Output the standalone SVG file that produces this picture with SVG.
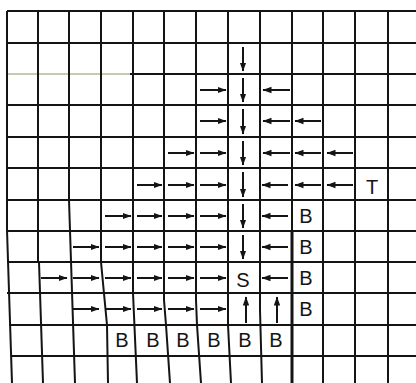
<svg xmlns="http://www.w3.org/2000/svg" width="416" height="383" viewBox="0 0 416 383">
<style>
.g{stroke:#141414;stroke-width:2;fill:none}
.a{stroke:#141414;stroke-width:2;fill:none;marker-end:url(#ah)}
.t{font-family:"Liberation Sans",Arial,sans-serif;font-size:20px;fill:#141414;text-anchor:middle}
</style>
<defs>
<marker id="ah" markerUnits="userSpaceOnUse" markerWidth="10" markerHeight="8" refX="8.5" refY="4" orient="auto">
<path d="M0,0.8 L9,4 L0,7.2 z" fill="#141414"/>
</marker>
</defs>
<rect width="416" height="383" fill="#fff"/>
<g id="grid">
<path class="g" d="M7,11H416 M7,43H416 M130,74H416 M7,105H416 M7,137H416 M7,168H416 M7,200H416 M7,231H416 M7,262H416 M7,293H416 M9,325H416 M11,356H416"/>
<path d="M7,74H130" stroke="#c9c8b0" stroke-width="2"/>
<path class="g" d="M7,11V230L12,383 M38,11V262 M39,262L43,383 M69,11V200L75,383 M101,11V262L107,325L108,383 M133,11V293L137,383 M164,11V300L166,325L170,383 M196,11V300L197,325L201,383 M228,11V325L231,383 M260,11V310L262,383 M292,11V231 M323,11V383 M355,11V383 M388,11V383"/>
<path d="M292,231V383" stroke="#141414" stroke-width="3"/>
</g>
<g id="connectors">
<path class="a" d="M200,90H226"/>
<path class="a" d="M200,121H226"/>
<path class="a" d="M168,153H194"/><path class="a" d="M200,153H226"/>
<path class="a" d="M137,185H162"/><path class="a" d="M168,185H194"/><path class="a" d="M200,185H226"/>
<path class="a" d="M105,216H131"/><path class="a" d="M137,216H162"/><path class="a" d="M168,216H194"/><path class="a" d="M200,216H226"/>
<path class="a" d="M73,247H99"/><path class="a" d="M105,247H131"/><path class="a" d="M137,247H162"/><path class="a" d="M168,247H194"/><path class="a" d="M200,247H226"/>
<path class="a" d="M41,278H67"/><path class="a" d="M73,278H99"/><path class="a" d="M105,278H131"/><path class="a" d="M137,278H162"/><path class="a" d="M168,278H194"/><path class="a" d="M200,278H226"/>
<path class="a" d="M73,309H99"/><path class="a" d="M105,309H131"/><path class="a" d="M137,309H162"/><path class="a" d="M168,309H194"/><path class="a" d="M200,309H226"/>
<path class="a" d="M290,90H263"/>
<path class="a" d="M290,121H263"/><path class="a" d="M321,121H295"/>
<path class="a" d="M290,153H263"/><path class="a" d="M321,153H295"/><path class="a" d="M353,153H327"/>
<path class="a" d="M288,185H262"/><path class="a" d="M321,185H295"/><path class="a" d="M353,185H327"/>
<path class="a" d="M288,216H262"/>
<path class="a" d="M288,247H262"/>
<path class="a" d="M288,278H262"/>
<path class="a" d="M243,47V71"/>
<path class="a" d="M243,78V102"/>
<path class="a" d="M243,109V134"/>
<path class="a" d="M243,141V165"/>
<path class="a" d="M243,172V197"/>
<path class="a" d="M243,204V228"/>
<path class="a" d="M243,235V259"/>
<path class="a" d="M246,323V297"/>
<path class="a" d="M277,323V297"/>
</g>
<g id="node-S"><text class="t" x="243" y="287">S</text></g>
<g id="node-T"><text class="t" x="372" y="194">T</text></g>
<g id="node-B1"><text class="t" x="306" y="223">B</text></g>
<g id="node-B2"><text class="t" x="306" y="254">B</text></g>
<g id="node-B3"><text class="t" x="306" y="285">B</text></g>
<g id="node-B4"><text class="t" x="306" y="316">B</text></g>
<g id="node-B5"><text class="t" x="122" y="347">B</text></g>
<g id="node-B6"><text class="t" x="153" y="347">B</text></g>
<g id="node-B7"><text class="t" x="183" y="347">B</text></g>
<g id="node-B8"><text class="t" x="214" y="347">B</text></g>
<g id="node-B9"><text class="t" x="245" y="347">B</text></g>
<g id="node-B10"><text class="t" x="276" y="347">B</text></g>
</svg>
